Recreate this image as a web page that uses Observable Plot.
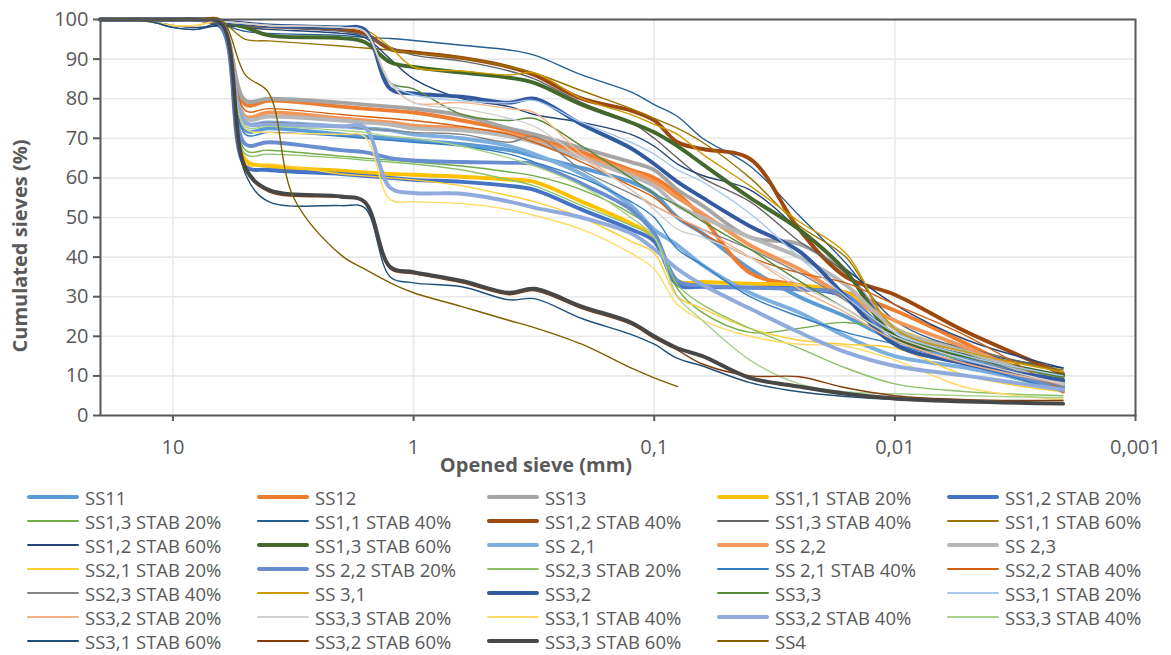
<!DOCTYPE html>
<html><head><meta charset="utf-8">
<script src="https://cdn.jsdelivr.net/npm/d3@7"></script>
<script src="https://cdn.jsdelivr.net/npm/@observablehq/plot@0.6"></script>
<style>
body{margin:0;background:#fff;font-family:"Open Sans",sans-serif;}
#chart{position:relative;width:1171px;height:655px;overflow:hidden;}
#legend{position:absolute;left:0;top:485px;width:1171px;height:170px;}
.item{position:absolute;height:24px;display:flex;align-items:center;font-size:18.5px;color:#595959;white-space:nowrap;}
.sw{width:52px;margin-right:6px;border-radius:2px;}
</style></head><body><div id="chart"><div id="plot"></div><div id="legend"></div></div>
<script>
// sieve openings (mm)
const sizes = [20,12.5,10,8,6.3,5,4,3.15,2,1.6,1.25,1,0.63,0.4,0.315,0.2,0.125,0.1,0.08,0.063,0.04,0.025,0.016,0.01,0.005,0.002];
const xTicks = [10,1,0.1,0.01,0.001];
const xTickLabels = ["10","1","0,1","0,01","0,001"];
const yTicks = [0,10,20,30,40,50,60,70,80,90,100];
const xTitle = "Opened sieve (mm)";
const yTitle = "Cumulated sieves (%)";

const names = ["SS11","SS12","SS13","SS1,1 STAB 20%","SS1,2 STAB 20%","SS1,3 STAB 20%","SS1,1 STAB 40%","SS1,2 STAB 40%","SS1,3 STAB 40%","SS1,1 STAB 60%","SS1,2 STAB 60%","SS1,3 STAB 60%","SS 2,1","SS 2,2","SS 2,3","SS2,1 STAB 20%","SS 2,2 STAB 20%","SS2,3 STAB 20%","SS 2,1 STAB 40%","SS2,2 STAB 40%","SS2,3 STAB 40%","SS 3,1","SS3,2","SS3,3","SS3,1 STAB 20%","SS3,2 STAB 20%","SS3,3 STAB 20%","SS3,1 STAB 40%","SS3,2 STAB 40%","SS3,3 STAB 40%","SS3,1 STAB 60%","SS3,2 STAB 60%","SS3,3 STAB 60%","SS4"];

// cumulated passing (%) per series, aligned with sizes
const values = [
[100,100,100,100,99,72,72.5,null,71,70.5,70,69.5,68.5,67,65.5,62.5,59,56,50,46,37,30,25,19,14,7.5],
[100,100,100,100,99,78.5,79.5,null,78,77.5,77,76.5,74.5,72,70,66.5,62,60,56,50,36,33,31,26.5,18,6],
[100,100,100,100,99,79.5,80,null,79,78.5,78,77.5,75.8,72.5,71,67.5,64,62,57,53,45,43.3,36,22,16,8],
[100,100,100,100,98.5,64.5,63,null,61.8,61.4,61,60.8,60.3,59.6,59,54,48.5,45,34,33.7,33.3,32.8,31,22,16,9],
[100,100,100,100,98,63,62,null,61,60.5,60,59.5,59,58,57,52,47,44,33,32.5,32.3,32,30,20,15,8.5],
[100,100,100,100,99,67,67,null,65.5,65,64.5,64,63,61.5,60.5,57,51,46.5,32,26,21,22,23.5,21,13,6],
[100,99.5,98,97.5,98.5,97,96.5,null,96,95.5,95.2,94.7,93.5,92.3,91,86,81.7,78.5,75.5,70,63,50.5,38.5,24,16.5,12],
[100,100,100,100,99,98.5,98.3,null,97.5,96.5,92.5,91.7,90.3,88,86,80,77,74.5,69,67.3,64.8,47,35,30.5,21,10.5],
[100,100,100,100,99,98.5,98,null,97,96,93,91,89.5,87,85,79,74,70,65,60,54,44,36,22,17,11],
[100,100,100,100,99.5,95,94.6,null,93.3,92.8,92.3,91.5,90.3,88,86.5,82,77.5,75,72.5,69,60,48,40,22,16,11.5],
[100,99.5,98.5,98,98.5,98,97.5,null,96.5,95.5,90,85,80,78,76,74,71,68,63.5,60.6,57,47,37,28,19,12],
[100,100,100,100,99.5,98,96,null,95.3,94.3,89.2,88,86.6,85.3,84,78.5,74,71.5,68,63.5,55,47,36.5,20,15,10],
[100,100,100,100,99,74,74,null,73,72.5,72,71,70,68,66,61,53,47,43,38,31,26,20,15,12,7],
[100,100,100,100,99,75.5,76.5,null,75,74.5,74,73.2,72.5,71,69.5,65.5,61.5,59,55,51,43,37,30,24,17,7],
[100,100,100,100,99,75,75.5,null,74.5,74,73.5,72.5,72,70.5,69,65,60.5,58,53,50,45,40,33,22,16,8],
[100,99.5,98.5,98.5,99,63.5,63.5,null,61,60.5,60,59.5,58,55.5,54,50,44,41,30,27,22,19,18,17,10,6],
[100,100,100,100,98.5,68.5,69,null,67,66.5,65,64.4,64,63.8,63.5,58.5,52,46,34,32.8,32.3,31.8,30.5,18,13,7],
[100,100,100,100,99,66,66,null,65,64.5,64,63.5,62,59.5,58,53,48,45,33,28,22,17,12,8,6,5],
[100,100,100,100,99,71,71.5,null,70.5,70,69.5,69,68,66,64,60,54,50,42,38,30,25,21,18,13,6],
[100,100,100,100,99,77,77.5,null,76,75.5,75,74.5,73,71,69,64,58,55,50,46,40,36,33.5,28,20,6],
[100,100,100,100,99,74,74,null,73,72.5,72,71.5,71,69,70.5,62,56,53,50,47,42,36,29,21,15,7],
[100,100,100,100,99.5,99,98.5,null,98,97.5,93,88,87,86,86.5,80,76,73.5,71,66,58,49,41,22,16,11],
[100,100,100,100,99.5,99,98.5,null,98,97.5,82.5,81.3,80.5,79,80,73.5,67.5,63.5,59,55,47.8,41.5,30,18,13,9],
[100,100,100,100,99.5,99,98.5,null,98,97,84,82.5,76,74.5,75,68,60,56,53,49,42,34,27,20,15,9.5],
[100,100,100,100,99.5,99,98.5,null,98,97,84,81,79.5,79,79.5,74,69,66,62,59,51,40,30,21,15,10],
[100,100,100,100,99.5,99,98.5,null,98,97,84,79,79,77.5,76.5,66,57,53,50,47,40,32,26,19,13,8],
[100,100,100,100,99.5,99,98.5,null,98,97,84,79,77.5,75,73,65,57,52,47,45,40,33,27,20,14,8],
[100,99.5,98.5,98.5,99,72.5,71.5,null,71,70.5,54.5,54,53.5,52,50.5,47,41,37,28,24,20,18,17.5,14,7,4],
[100,100,100,100,99,74,73.5,null,73,72.8,57.5,56.2,56,54,52.5,50,46,42,37,33,27,21,16,12.5,10,6.5],
[100,100,100,100,99,73,73,null,72,71.5,70.5,70,68,65,63,58,50,45,30,24,14,8,6,5.5,5,4.5],
[100,99.5,98,97.5,98.5,61,54,null,53,52.5,35,33.5,32.5,29.2,29.5,24.5,20.5,18,14.4,12.5,8.3,6,4.8,4,3.5,3],
[100,100,100,100,99,62,56.5,null,55,54,37,35.8,33.5,30.5,31.5,27,23,19.5,16.5,13,10,9.8,7,5,4,3.8],
[100,100,100,100,99,62.5,57,null,55.3,54,37.5,36.2,34,31,32,27.5,23.5,20,17,15,9.5,7.3,5.5,4.3,3.5,3],
[100,100,100,100,100,86,81.5,55,40.5,37,33.5,31,27.5,24,22.2,18,12,9.5,7.3,null,null,null,null,null,null,null]
];

// styles
const colors = ["#5B9BD5","#ED7D31","#A5A5A5","#FFC000","#4472C4","#70AD47","#255E91","#9E480E","#636363","#997300","#264478","#43682B","#7CAFDD","#F1975A","#B7B7B7","#FFCD33","#698ED0","#8CC168","#327DC2","#D26012","#848484","#CC9A00","#335AA1","#5A8A39","#A9C9EA","#F4B183","#D0D0D0","#FFD966","#8FAADC","#A9D18E","#1F4E79","#843C0C","#474747","#7F6000"];
const thick = [1,1,1,1,1,0,0,1,0,0,0,1,1,1,1,0,1,0,0,0,0,0,1,0,0,0,0,0,1,0,0,0,1,0];

const rows = [];
names.forEach((n, i) => values[i].forEach((v, j) => { if (v != null) rows.push({s: i, size: sizes[j], pct: v}); }));

const lines = names.map((n, i) => Plot.line(rows.filter(r => r.s === i), {
  x: "size", y: "pct", stroke: colors[i], strokeWidth: thick[i] ? 3.9 : 1.4, curve: "catmull-rom"
}));

const chart = Plot.plot({
  width: 1171, height: 485,
  marginLeft: 100, marginRight: 36, marginTop: 19, marginBottom: 70,
  style: {fontFamily: '"Open Sans", sans-serif', fontSize: "20px", color: "#595959", background: "white", overflow: "visible"},
  x: {type: "log", domain: [20, 0.001]},
  y: {domain: [0, 100]},
  marks: [
    Plot.gridX(xTicks, {stroke: "#e9e9e9", strokeOpacity: 1, strokeWidth: 1.6}),
    Plot.gridY(yTicks, {stroke: "#e9e9e9", strokeOpacity: 1, strokeWidth: 1.6}),
    ...lines,
    Plot.frame({stroke: "#595959", strokeWidth: 2}),
    Plot.axisX(xTicks, {tickFormat: d => xTickLabels[xTicks.indexOf(d)], tickSize: 6, tickPadding: 18, stroke: "#595959", strokeWidth: 2, label: null, fontSize: 20}),
    Plot.axisY(yTicks, {tickSize: 7, tickPadding: 5, stroke: "#595959", strokeWidth: 2, label: null, fontSize: 20}),
    Plot.text([xTitle], {frameAnchor: "bottom", dx: -82, dy: 56, fontWeight: "bold", fontSize: 20, fill: "#595959"})
  ]
});
document.getElementById("plot").appendChild(chart);

// rotated y-axis title
d3.select(chart).append("text")
  .attr("transform", "translate(22,246) rotate(-90)")
  .attr("text-anchor", "middle")
  .attr("dominant-baseline", "middle")
  .attr("fill", "#595959")
  .attr("font-weight", "bold")
  .attr("font-size", 20)
  .attr("font-family", '"Open Sans", sans-serif')
  .text(yTitle);

const legend = document.getElementById("legend");
names.forEach((n, i) => {
  const row = Math.floor(i / 5), col = i % 5;
  const it = document.createElement("div");
  it.className = "item";
  it.style.left = (27 + 230 * col) + "px";
  it.style.top = (24 * row) + "px";
  const sw = document.createElement("span");
  sw.className = "sw";
  sw.style.height = (thick[i] ? 4 : 1.6) + "px";
  sw.style.background = colors[i];
  it.appendChild(sw);
  it.appendChild(document.createTextNode(n));
  legend.appendChild(it);
});
</script></body></html>
